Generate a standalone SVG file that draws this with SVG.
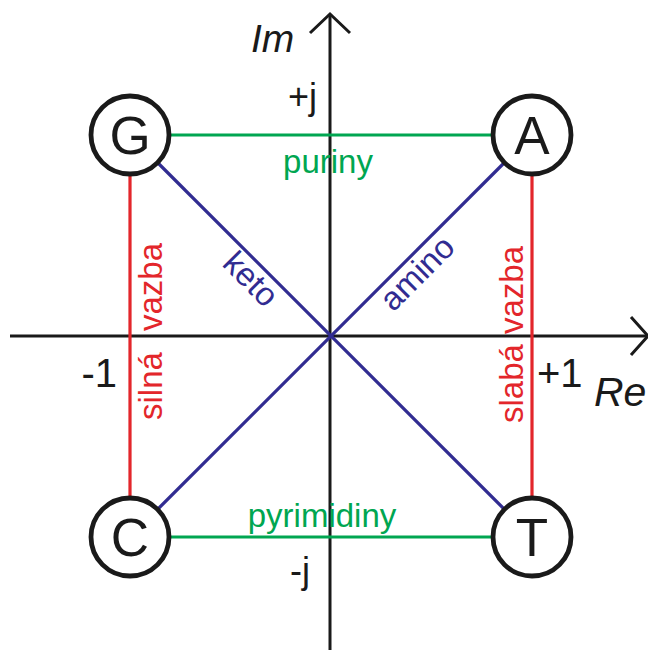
<svg xmlns="http://www.w3.org/2000/svg" width="648" height="650" viewBox="0 0 648 650">
<style>
text{font-family:"Liberation Sans",Arial,sans-serif}
.ax{stroke:#1a1a1a;stroke-width:3;fill:none}
.node circle{fill:#fff;stroke:#1a1a1a;stroke-width:4.8}
.node text{font-size:53px;fill:#1a1a1a;text-anchor:middle}
.green{stroke:#00a651;stroke-width:3.2}
.red{stroke:#e3262b;stroke-width:3.2}
.blue{stroke:#312c91;stroke-width:3.2}
.lbl{font-size:33px}
.tg{fill:#00a651}
.tr{fill:#e3262b}
.tb{fill:#312c91}
.tk{fill:#1a1a1a}
</style>
<g id="axes">
<line class="ax" x1="330" y1="650" x2="330" y2="14"/>
<polyline class="ax" points="310,33 330,14 350,33"/>
<line class="ax" x1="10" y1="336" x2="647" y2="336"/>
<polyline class="ax" points="631,317 648,336 631,355"/>
<text class="tk" x="251" y="52" font-size="39" font-style="italic">Im</text>
<text class="tk" x="594" y="406" font-size="41" font-style="italic">Re</text>
<text class="tk" x="288" y="109" font-size="36">+j</text>
<text class="tk" x="290" y="583" font-size="36">-j</text>
<text class="tk" x="117" y="387" font-size="40" text-anchor="end">-1</text>
<text class="tk" x="537" y="387" font-size="40">+1</text>
</g>
<g id="connectors">
<line class="green" x1="170" y1="135" x2="492" y2="135"/>
<line class="green" x1="170" y1="537" x2="492" y2="537"/>
<line class="red" x1="130" y1="175" x2="130" y2="497"/>
<line class="red" x1="532" y1="175" x2="532" y2="497"/>
<line class="blue" x1="158" y1="163" x2="504" y2="509"/>
<line class="blue" x1="504" y1="163" x2="158" y2="509"/>
<text class="lbl tg" x="328" y="173" text-anchor="middle">puriny</text>
<text class="lbl tg" x="322" y="527" text-anchor="middle">pyrimidiny</text>
<text class="lbl tb" transform="translate(243,287) rotate(45)" text-anchor="middle">keto</text>
<text class="lbl tb" transform="translate(425,281) rotate(-45)" text-anchor="middle">amino</text>
<text class="lbl tr" transform="translate(162,331) rotate(-90)">vazba</text>
<text class="lbl tr" transform="translate(162,420) rotate(-90)">silná</text>
<text class="lbl tr" transform="translate(523,334) rotate(-90)">vazba</text>
<text class="lbl tr" transform="translate(523,423) rotate(-90)">slabá</text>
</g>
<g id="G" class="node"><circle cx="130" cy="135" r="39"/><text x="130" y="154">G</text></g>
<g id="A" class="node"><circle cx="532" cy="135" r="39"/><text x="532" y="154">A</text></g>
<g id="C" class="node"><circle cx="130" cy="537" r="39"/><text x="130" y="556">C</text></g>
<g id="T" class="node"><circle cx="532" cy="537" r="39"/><text x="532" y="556">T</text></g>
</svg>
